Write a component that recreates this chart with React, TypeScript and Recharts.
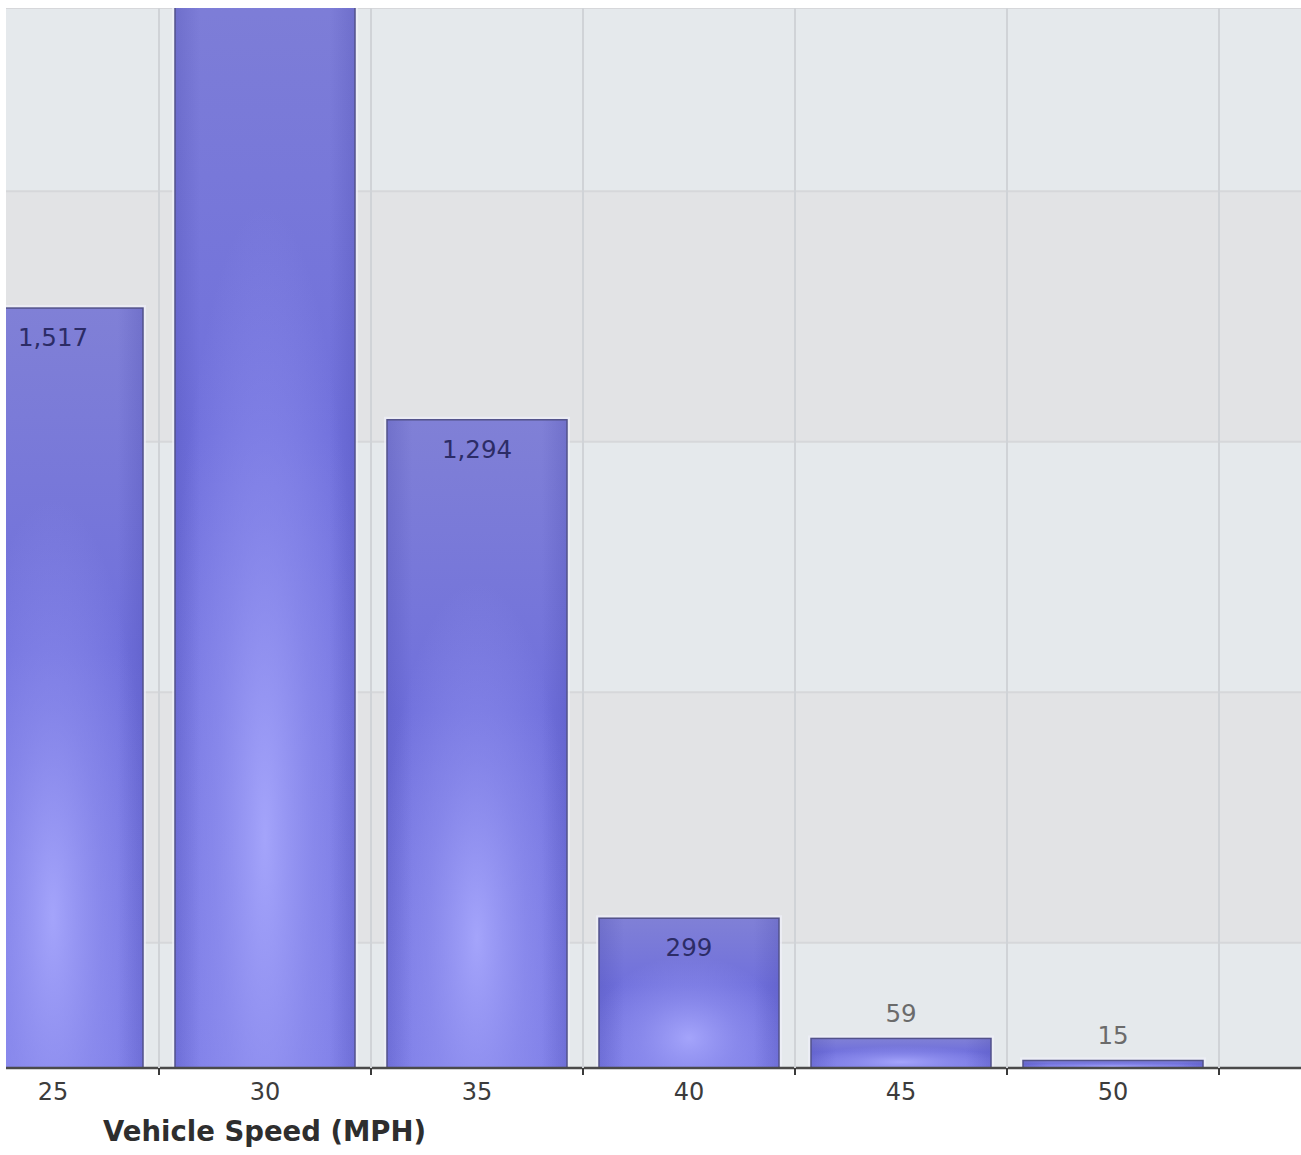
import { BarChart, Bar, XAxis, YAxis, CartesianGrid, LabelList } from 'recharts'

const speeds = ['25', '30', '35', '40', '45', '50', '55']
const counts: (number | null)[] = [1517, 2300, 1294, 299, 59, 15, null]
const bandTicks = [250, 750, 1250, 1750]

const data = speeds.map((speed, i) => ({ speed, count: counts[i] }))
const countBySpeed = new Map(data.map((d) => [d.speed, d.count]))

const FONT = '"DejaVu Sans", Verdana, sans-serif'
const PLOT_H = 1060

function GlossyBar(props: any) {
  const { x, y, width, height } = props
  if (!height || height <= 0) return null
  return (
    <g>
      <rect x={x - 3} y={y - 3} width={width + 6} height={height + 3} fill="#f0f0fa" opacity={0.7} />
      <rect x={x} y={y} width={width} height={height} fill="url(#barBase)" />
      <rect x={x} y={y} width={width} height={height} fill="url(#barGlow)" />
      <rect x={x} y={y} width={width} height={height} fill="url(#barEdge)" />
      <rect x={x} y={y} width={width} height={height} fill="none" stroke="#52528a" strokeWidth={1.5} />
    </g>
  )
}

function CountLabel(props: any) {
  const { x, y, width, height, value } = props
  // bars running past the top of the axis have their label clipped away
  if (value == null || y < 0) return null
  const inside = height > 60
  return (
    <text
      x={x + width / 2}
      y={inside ? y + 38 : y - 16}
      textAnchor="middle"
      fontFamily={FONT}
      fontSize={24.5}
      fill={inside ? '#2c2c66' : '#6b6b6b'}
    >
      {Number(value).toLocaleString('en-US')}
    </text>
  )
}

function SpeedTick(props: any) {
  const { x, y, payload } = props
  const half = payload?.offset || 106
  const hasData = countBySpeed.get(payload.value) != null
  return (
    <g>
      <line x1={x + half} x2={x + half} y1={y - PLOT_H} y2={y} stroke="#d0d3d7" strokeWidth={2} />
      <line x1={x + half} x2={x + half} y1={y} y2={y + 7} stroke="#3a3a3a" strokeWidth={2} />
      {hasData && (
        <text x={x} y={y + 32} textAnchor="middle" fontFamily={FONT} fontSize={24} fill="#3c3c3c">
          {payload.value}
        </text>
      )}
    </g>
  )
}

export default function App() {
  return (
    <div style={{ position: 'absolute', left: 0, top: 0, width: 1301, height: 1155, background: '#fff', overflow: 'hidden' }}>
      <div style={{ position: 'absolute', left: 6, top: 8, width: 1295, height: 1147, overflow: 'hidden' }}>
        <div style={{ position: 'absolute', left: -59, top: 0 }}>
          <BarChart
            width={1484}
            height={PLOT_H + 60}
            data={data}
            margin={{ top: 0, right: 0, bottom: 0, left: 0 }}
            barCategoryGap={16}
          >
            <defs>
              <linearGradient id="barBase" x1="0" y1="0" x2="0" y2="1">
                <stop offset="0" stopColor="#8080d6" />
                <stop offset="0.45" stopColor="#7070dc" />
                <stop offset="1" stopColor="#7c7ce6" />
              </linearGradient>
              <radialGradient id="barGlow" cx="0.5" cy="0.8" r="0.55">
                <stop offset="0" stopColor="#acacff" stopOpacity={0.85} />
                <stop offset="0.5" stopColor="#9c9cf6" stopOpacity={0.45} />
                <stop offset="1" stopColor="#9c9cf6" stopOpacity={0} />
              </radialGradient>
              <linearGradient id="barEdge" x1="0" y1="0" x2="1" y2="0">
                <stop offset="0" stopColor="#3c3ca0" stopOpacity={0.22} />
                <stop offset="0.14" stopColor="#3c3ca0" stopOpacity={0} />
                <stop offset="0.86" stopColor="#3c3ca0" stopOpacity={0} />
                <stop offset="1" stopColor="#3c3ca0" stopOpacity={0.22} />
              </linearGradient>
            </defs>
            <CartesianGrid
              vertical={false}
              stroke="#d6d7da"
              strokeWidth={2}
              horizontalFill={['#e5e9ec', '#e2e3e5']}
              fillOpacity={1}
            />
            <YAxis hide type="number" domain={[0, 2116]} ticks={bandTicks} allowDataOverflow />
            <XAxis
              dataKey="speed"
              height={60}
              tickLine={false}
              tickSize={0}
              tickMargin={0}
              interval={0}
              axisLine={{ stroke: '#4a4a4a', strokeWidth: 2.5 }}
              tick={<SpeedTick />}
            />
            <Bar dataKey="count" isAnimationActive={false} shape={<GlossyBar />}>
              <LabelList dataKey="count" content={<CountLabel />} />
            </Bar>
          </BarChart>
        </div>
      </div>
      <div
        style={{
          position: 'absolute',
          left: 103,
          top: 1114,
          fontFamily: FONT,
          fontWeight: 'bold',
          fontSize: 27.5,
          lineHeight: '34px',
          color: '#2e2e2e',
          whiteSpace: 'nowrap',
        }}
      >
        Vehicle Speed (MPH)
      </div>
    </div>
  )
}
